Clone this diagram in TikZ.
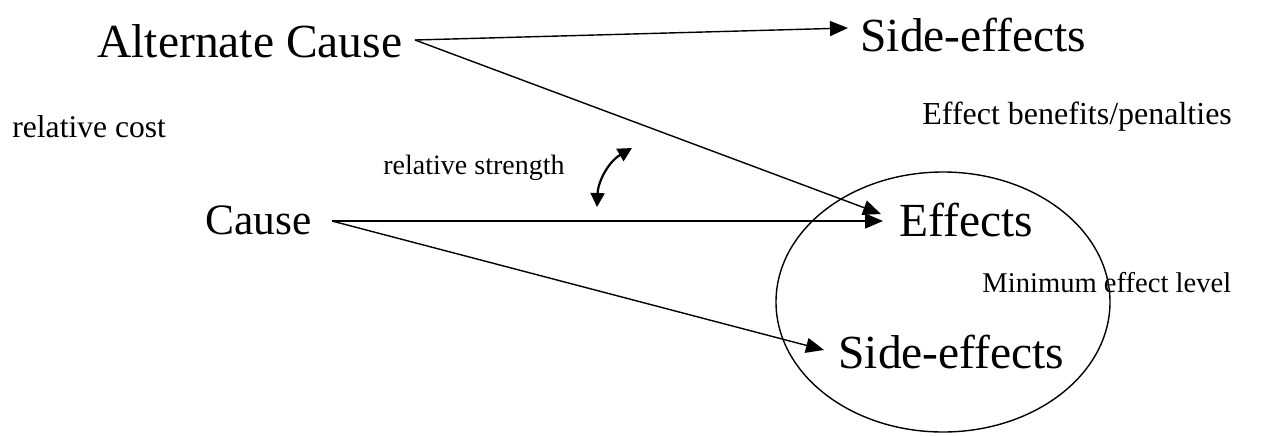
\documentclass[tikz,border=0pt]{standalone}
\usepackage{fontspec}
\setmainfont{Liberation Serif}
\usetikzlibrary{arrows.meta}
\begin{document}
\begin{tikzpicture}[x=0.5pt,y=-0.5pt,
  big/.style={inner sep=0pt,anchor=base west,font=\fontsize{23.75}{28}\selectfont},
  small/.style={inner sep=0pt,anchor=base west,font=\fontsize{15.8}{19}\selectfont},
  smaller/.style={inner sep=0pt,anchor=base west,font=\fontsize{14.3}{17}\selectfont},
  conn/.style={line width=0.7pt,-{Triangle[length=9pt,width=7.5pt]}},
  dbl/.style={line width=1.1pt,{Triangle[length=7pt,width=7pt]}-{Triangle[length=7pt,width=7pt]}}]
\useasboundingbox (0,0) rectangle (1276,435);
% ellipse
\draw[line width=0.7pt] (943,302) ellipse [x radius=167, y radius=130];
% texts
\node[big] (ac) at (97,57) {Alternate Cause};
\node[big] (se1) at (860,51) {Side-effects};
\node[small] (rc) at (12,137) {relative cost};
\node[small,font=\fontsize{16}{19}\selectfont] (ebp) at (922,124) {Effect benefits/penalties};
\node[smaller,font=\fontsize{14}{17}\selectfont] (rs) at (383,174) {relative strength};
\node[big,font=\fontsize{21.7}{26}\selectfont] (ca) at (205,234) {Cause};
\node[big] (ef) at (899,236) {Effects};
\node[smaller] (mel) at (982,292) {Minimum effect level};
\node[big] (se2) at (838,368) {Side-effects};
% connector end points
\coordinate (acout) at (415,40);
\coordinate (se1in) at (848,28);
\coordinate (efin1) at (881,214);
\coordinate (caout) at (332,221);
\coordinate (efin2) at (883,221);
\coordinate (se2in) at (824,350);
\coordinate (rsa) at (597,207);
\coordinate (rsb) at (632,148);
% connectors
\draw[conn] (acout) -- (se1in);
\draw[conn] (acout) -- (efin1);
\draw[conn] (caout) -- (efin2);
\draw[conn] (caout) -- (se2in);
\draw[dbl] (rsa) .. controls (598,182) and (608,162) .. (rsb);
\end{tikzpicture}
\end{document}
